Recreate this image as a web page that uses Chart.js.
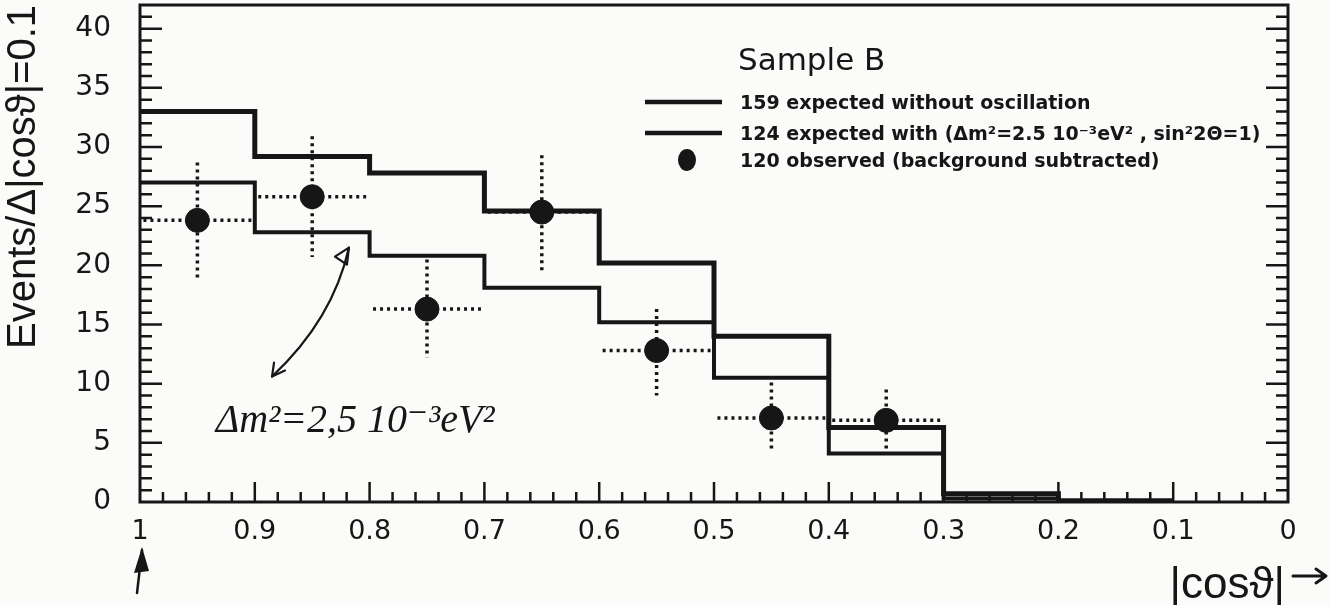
<!DOCTYPE html>
<html>
<head>
<meta charset="utf-8">
<script src="https://cdn.jsdelivr.net/npm/chart.js@4.4.1/dist/chart.umd.min.js"></script>
<style>
  html, body { margin: 0; padding: 0; background: #fbfbfa; }
  #wrap { width: 1330px; height: 605px; position: relative; }
</style>
</head>
<body>
<div id="wrap"><canvas id="chart"></canvas></div>
<script>
// bins in |cos theta|, width 0.1, running from 1 down to 0.1
const binEdges = [1.0, 0.9, 0.8, 0.7, 0.6, 0.5, 0.4, 0.3, 0.2, 0.1];
const expectedNoOsc = [33.0, 29.2, 27.8, 24.6, 20.2, 14.0, 6.3, 0.7, 0.1];
const expectedOsc = [27.0, 22.8, 20.8, 18.1, 15.2, 10.5, 4.1, 0.3, 0.05];

// observed events with their error bars
const observedX = [0.95, 0.85, 0.75, 0.65, 0.55, 0.45, 0.35];
const observedY = [23.8, 25.8, 16.3, 24.5, 12.8, 7.1, 6.9];
const observedHi = [28.7, 30.9, 20.5, 29.3, 16.3, 10.1, 9.5];
const observedLo = [18.8, 20.7, 12.2, 19.4, 9.0, 4.2, 4.4];

const xTicks = [1, 0.9, 0.8, 0.7, 0.6, 0.5, 0.4, 0.3, 0.2, 0.1, 0];
const yTicks = [0, 5, 10, 15, 20, 25, 30, 35, 40];

const legendTitle = 'Sample B';
const labelNoOsc = '159 expected without oscillation';
const labelOsc = '124 expected with (\u0394m\u00b2=2.5 10\u207b\u00b3eV\u00b2 , sin\u00b22\u0398=1)';
const labelObs = '120 observed (background subtracted)';
const yTitle = 'Events/\u0394|cos\u03d1|=0.1';
const xTitle = '|cos\u03d1|';
const handNote = '\u0394m\u00b2=2,5 10\u207b\u00b3eV\u00b2';

const INK = '#161616';
const SANS = '"Liberation Sans", "DejaVu Sans", sans-serif';
const TICK_FONT = '"DejaVu Sans", sans-serif';
const binHalf = 0.047;

function steps(values) {
  const pts = [];
  values.forEach((v, i) => {
    pts.push({ x: binEdges[i], y: v }, { x: binEdges[i + 1], y: v });
  });
  return pts;
}

const errorBars = {
  id: 'errorBars',
  beforeDatasetsDraw(chart) {
    const { ctx, scales: { x, y } } = chart;
    ctx.save();
    ctx.strokeStyle = INK;
    ctx.lineWidth = 3.5;
    ctx.setLineDash([3, 4]);
    ctx.beginPath();
    observedX.forEach((cx, i) => {
      const px = x.getPixelForValue(cx);
      const py = y.getPixelForValue(observedY[i]);
      ctx.moveTo(x.getPixelForValue(cx + binHalf), py);
      ctx.lineTo(x.getPixelForValue(cx - binHalf), py);
      ctx.moveTo(px, y.getPixelForValue(observedHi[i]));
      ctx.lineTo(px, y.getPixelForValue(observedLo[i]));
    });
    ctx.stroke();
    ctx.restore();
  }
};

// box frame with inward ticks on left, right and bottom
const axisFrame = {
  id: 'axisFrame',
  afterDatasetsDraw(chart) {
    const { ctx, chartArea: a, scales: { x, y } } = chart;
    ctx.save();
    ctx.strokeStyle = INK;
    ctx.lineWidth = 2.5;
    ctx.beginPath();
    for (let v = 1; v < y.max; v++) {
      const py = y.getPixelForValue(v);
      const len = v % 5 === 0 ? 22 : 12;
      ctx.moveTo(a.left, py); ctx.lineTo(a.left + len, py);
      ctx.moveTo(a.right, py); ctx.lineTo(a.right - len, py);
    }
    for (let i = 1; i < 50; i++) {
      const px = x.getPixelForValue(i / 50);
      const len = i % 5 === 0 ? 20 : 10;
      ctx.moveTo(px, a.bottom); ctx.lineTo(px, a.bottom - len);
    }
    ctx.stroke();
    ctx.lineWidth = 3;
    ctx.strokeRect(a.left, a.top, a.right - a.left, a.bottom - a.top);
    ctx.restore();
  }
};

const boxLegend = {
  id: 'boxLegend',
  afterDraw(chart) {
    const { ctx } = chart;
    const ds = chart.data.datasets;
    const lx = 645, tx = 740;
    ctx.save();
    ctx.fillStyle = INK;
    ctx.strokeStyle = INK;
    ctx.textBaseline = 'alphabetic';
    ctx.font = '31px "DejaVu Sans", sans-serif';
    ctx.fillText(legendTitle, 738, 70);

    ctx.font = 'bold 19px "DejaVu Sans", sans-serif';
    const rows = [102, 133, 160];
    ds.forEach((d, i) => {
      const ry = rows[i];
      if (d.showLine) {
        ctx.lineWidth = 4.5;
        ctx.beginPath();
        ctx.moveTo(lx, ry); ctx.lineTo(lx + 77, ry);
        ctx.stroke();
      } else {
        ctx.beginPath();
        ctx.ellipse(lx + 42, ry, 9, 11, 0, 0, Math.PI * 2);
        ctx.fill();
      }
      ctx.fillText(d.label, tx, ry + 7);
    });
    ctx.restore();
  }
};

// pen notes: the Delta m^2 remark with its arrow, the |cos| axis title and arrows
const penNotes = {
  id: 'penNotes',
  afterDraw(chart) {
    const { ctx, chartArea: a, scales: { x, y } } = chart;
    ctx.save();
    ctx.fillStyle = INK;
    ctx.strokeStyle = INK;
    ctx.lineCap = 'round';
    ctx.lineJoin = 'round';

    ctx.font = 'italic 40px "Liberation Serif", "DejaVu Serif", serif';
    ctx.fillText(handNote, x.getPixelForValue(0.934), y.getPixelForValue(5.9));

    const p0 = { x: x.getPixelForValue(0.885), y: y.getPixelForValue(10.6) };
    const pc = { x: x.getPixelForValue(0.832), y: y.getPixelForValue(15.4) };
    const p1 = { x: x.getPixelForValue(0.818), y: y.getPixelForValue(21.5) };
    ctx.lineWidth = 2.2;
    ctx.beginPath();
    ctx.moveTo(p0.x, p0.y);
    ctx.quadraticCurveTo(pc.x, pc.y, p1.x, p1.y);
    ctx.stroke();
    // heads at both ends
    ctx.beginPath();
    ctx.moveTo(p0.x + 2, p0.y - 14); ctx.lineTo(p0.x, p0.y); ctx.lineTo(p0.x + 13, p0.y - 6);
    ctx.moveTo(p1.x - 14, p1.y + 9); ctx.lineTo(p1.x, p1.y); ctx.lineTo(p1.x - 2, p1.y + 17);
    ctx.closePath();
    ctx.stroke();

    // axis title with its arrow
    ctx.font = '44px ' + SANS;
    ctx.textAlign = 'right';
    ctx.fillText(xTitle, a.right - 3, 598);
    ctx.lineWidth = 3;
    ctx.beginPath();
    ctx.moveTo(a.right + 5, 576); ctx.lineTo(a.right + 36, 576);
    ctx.moveTo(a.right + 28, 569); ctx.lineTo(a.right + 38, 576); ctx.lineTo(a.right + 28, 583);
    ctx.stroke();

    // upward arrow under the "1" label
    const ux = x.getPixelForValue(1);
    ctx.lineWidth = 2.5;
    ctx.beginPath();
    ctx.moveTo(ux - 3, 593); ctx.lineTo(ux + 2, 550);
    ctx.stroke();
    ctx.beginPath();
    ctx.moveTo(ux + 2, 547); ctx.lineTo(ux - 6, 573); ctx.lineTo(ux + 9, 571);
    ctx.closePath();
    ctx.fill();
    ctx.restore();
  }
};

new Chart(document.getElementById('chart'), {
  type: 'scatter',
  data: {
    datasets: [
      {
        label: labelNoOsc,
        data: steps(expectedNoOsc),
        showLine: true,
        borderColor: INK,
        borderWidth: 5,
        pointRadius: 0,
        order: 2
      },
      {
        label: labelOsc,
        data: steps(expectedOsc),
        showLine: true,
        borderColor: INK,
        borderWidth: 4,
        pointRadius: 0,
        order: 3
      },
      {
        label: labelObs,
        data: observedX.map((v, i) => ({ x: v, y: observedY[i] })),
        showLine: false,
        pointRadius: 12,
        pointBackgroundColor: INK,
        pointBorderColor: INK,
        order: 1
      }
    ]
  },
  options: {
    responsive: true,
    maintainAspectRatio: false,
    animation: false,
    layout: { autoPadding: false, padding: { left: 0, right: 42, top: 5, bottom: 0 } },
    plugins: { legend: { display: false }, tooltip: { enabled: false } },
    scales: {
      x: {
        type: 'linear',
        reverse: true,
        min: 0,
        max: 1,
        afterBuildTicks: s => { s.ticks = xTicks.map(v => ({ value: v })); },
        afterFit: s => { s.height = 103; s.paddingLeft = 0; s.paddingRight = 0; },
        grid: { display: false },
        border: { display: false },
        ticks: {
          autoSkip: false,
          maxRotation: 0,
          padding: 6,
          color: INK,
          font: { family: TICK_FONT, size: 27 },
          callback: v => (v === 0 || v === 1) ? String(v) : v.toFixed(1)
        }
      },
      y: {
        min: 0,
        max: 42,
        afterBuildTicks: s => { s.ticks = yTicks.map(v => ({ value: v })); },
        afterFit: s => { s.width = 140; s.paddingTop = 0; s.paddingBottom = 0; },
        grid: { display: false },
        border: { display: false },
        ticks: {
          padding: 21,
          color: INK,
          font: { family: TICK_FONT, size: 28 }
        },
        title: {
          display: true,
          text: yTitle,
          align: 'end',
          padding: 0,
          color: INK,
          font: { family: SANS, size: 40 }
        }
      }
    }
  },
  plugins: [errorBars, axisFrame, boxLegend, penNotes]
});
</script>
</body>
</html>
